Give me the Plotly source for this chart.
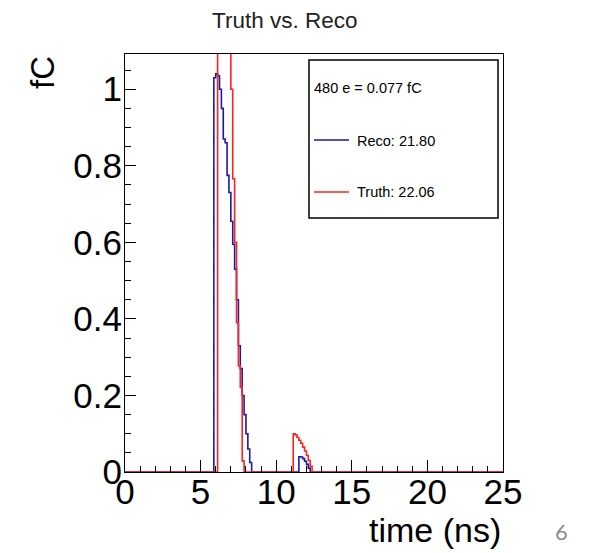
import numpy as np
import plotly.graph_objects as go

# ---------------- data ----------------
bin_width = 0.125
x_min, x_max = 0.0, 25.0

# Reco histogram: start time of each non-empty bin (ns) and content (fC)
reco_bin_start = [5.875, 6.0, 6.125, 6.25, 6.375, 6.5, 6.625, 6.75, 6.875, 7.0,
                  7.125, 7.25, 7.375, 7.5, 7.625, 7.75, 7.875, 8.0, 8.125, 8.25,
                  11.5, 11.625, 11.75, 11.875, 12.0, 12.125]
reco_values = [1.03, 1.04, 1.035, 1.00, 0.95, 0.87, 0.86, 0.775, 0.73, 0.655,
               0.595, 0.53, 0.45, 0.33, 0.27, 0.20, 0.15, 0.10, 0.06, 0.025,
               0.040, 0.039, 0.035, 0.028, 0.020, 0.010]

# Truth histogram
truth_bin_start = [6.125, 6.25, 6.375, 6.5, 6.625, 6.75, 6.875, 7.0, 7.125, 7.25,
                   7.375, 7.5, 7.625, 7.75,
                   11.125, 11.25, 11.375, 11.5, 11.625, 11.75, 11.875, 12.0, 12.125, 12.25]
truth_values = [1.6, 2.0, 2.1, 1.9, 1.6, 1.3, 1.15, 1.00, 0.766, 0.60,
                0.39, 0.277, 0.221, 0.029,
                0.100, 0.097, 0.090, 0.083, 0.075, 0.065, 0.055, 0.043, 0.030, 0.015]

x_tick_labels = ["0", "5", "10", "15", "20", "25"]
y_tick_labels = ["0", "0.2", "0.4", "0.6", "0.8", "1"]

title_text = "Truth vs. Reco"
header_text = "480 e = 0.077 fC"
reco_label = "Reco: 21.80"
truth_label = "Truth: 22.06"
x_title = "time (ns)"
y_title = "fC"
page_number = "6"

# ---------------- build histograms ----------------
edges = np.arange(x_min, x_max + bin_width / 2, bin_width)
n_bins = len(edges) - 1


def make_hist(starts, vals):
    h = np.zeros(n_bins)
    for s, v in zip(starts, vals):
        h[int(round((s - x_min) / bin_width))] = v
    xs = list(edges)
    ys = list(h) + [h[-1]]
    return xs, ys


rx, ry = make_hist(reco_bin_start, reco_values)
tx, ty = make_hist(truth_bin_start, truth_values)

# page body has an 8px margin: the figure sits at (8, 8) in the window
OFF = 8
W, H = 592 - OFF, 553 - OFF
# plot frame in window pixels: left 125, right 503, top 54, bottom 472
FL, FR, FT, FB = 125, 503, 54, 472
ML, MR, MT, MB = FL - OFF, W - (FR - OFF), FT - OFF, H - (FB - OFF)
PW, PH = FR - FL, FB - FT


def px(xpix):
    return (xpix - FL) / PW


def py(ypix):
    return (FB - ypix) / PH


FONT = "Liberation Sans, Arial, Helvetica, sans-serif"
BLUE = "#1a1aa6"
RED = "#ff2020"

fig = go.Figure()
fig.add_trace(go.Scatter(x=rx, y=ry, mode="lines", line=dict(color=BLUE, width=1.6, shape="hv"),
                         name=reco_label, showlegend=False, hoverinfo="skip"))
fig.add_trace(go.Scatter(x=tx, y=ty, mode="lines", line=dict(color=RED, width=1.6, shape="hv"),
                         name=truth_label, showlegend=False, hoverinfo="skip"))

fig.update_layout(
    width=W, height=H,
    margin=dict(l=ML, r=MR, t=MT, b=MB, pad=0),
    paper_bgcolor="white", plot_bgcolor="white",
    font=dict(family=FONT, color="black"),
    xaxis=dict(range=[x_min, x_max], showgrid=False, zeroline=False,
               showline=True, mirror=True, linecolor="black", linewidth=1,
               ticks="inside", ticklen=12, tickcolor="black",
               tickvals=[float(t) for t in x_tick_labels], ticktext=x_tick_labels,
               tickfont=dict(size=35, family=FONT), ticklabelstandoff=-11,
               minor=dict(ticks="inside", ticklen=6, dtick=1, tickcolor="black", showgrid=False)),
    yaxis=dict(range=[0, 1.092], showgrid=False, zeroline=False,
               showline=True, mirror=True, linecolor="black", linewidth=1,
               ticks="inside", ticklen=11, tickcolor="black",
               tickvals=[float(t) for t in y_tick_labels], ticktext=y_tick_labels,
               tickfont=dict(size=35, family=FONT), ticklabelstandoff=-5,
               minor=dict(ticks="inside", ticklen=6, dtick=0.05, tickcolor="black", showgrid=False)),
    shapes=[
        dict(type="rect", xref="paper", yref="paper",
             x0=px(309), x1=px(498), y0=py(218), y1=py(60),
             line=dict(color="black", width=1.5), fillcolor="white", layer="above"),
        dict(type="line", xref="paper", yref="paper",
             x0=px(314), x1=px(349), y0=py(140), y1=py(140),
             line=dict(color=BLUE, width=1.6), layer="above"),
        dict(type="line", xref="paper", yref="paper",
             x0=px(314), x1=px(349), y0=py(192), y1=py(192),
             line=dict(color=RED, width=1.6), layer="above"),
    ],
    annotations=[
        dict(text=title_text, xref="paper", yref="paper", x=px(284), y=py(21),
             xanchor="center", yanchor="middle", showarrow=False,
             font=dict(size=22.5, family=FONT, color="#222")),
        dict(text=header_text, xref="paper", yref="paper", x=px(312), y=py(88),
             xanchor="left", yanchor="middle", showarrow=False,
             font=dict(size=14.5, family=FONT)),
        dict(text=reco_label, xref="paper", yref="paper", x=px(355), y=py(141),
             xanchor="left", yanchor="middle", showarrow=False,
             font=dict(size=14.5, family=FONT)),
        dict(text=truth_label, xref="paper", yref="paper", x=px(355), y=py(192),
             xanchor="left", yanchor="middle", showarrow=False,
             font=dict(size=14.5, family=FONT)),
        dict(text=x_title, xref="paper", yref="paper", x=px(503), y=py(530),
             xanchor="right", yanchor="middle", showarrow=False,
             font=dict(size=34, family=FONT)),
        dict(text=y_title, xref="paper", yref="paper", x=px(43), y=py(73),
             xanchor="center", yanchor="middle", showarrow=False, textangle=-90,
             font=dict(size=33, family=FONT)),
        dict(text=page_number, xref="paper", yref="paper", x=px(561), y=py(531),
             xanchor="center", yanchor="middle", showarrow=False,
             font=dict(size=22, family="Lato, Open Sans, sans-serif", color="#8c8c8c")),
    ],
)

fig.write_html("out.html")
